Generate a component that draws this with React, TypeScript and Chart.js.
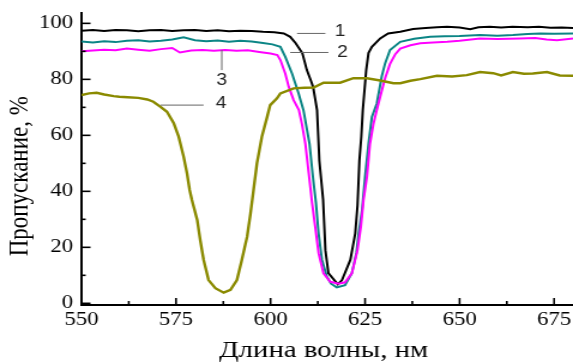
import React, { useEffect, useRef } from 'react';
import { Chart, registerables } from 'chart.js';

Chart.register(...registerables);

// ---- axes ----
const xTicks = [550, 575, 600, 625, 650, 675];
const xMinorTicks = [562.5, 587.5, 612.5, 637.5, 662.5];
const yTicks = [0, 20, 40, 60, 80, 100];
const yMinorTicks = [10, 30, 50, 70, 90];
const xTitle = 'Длина волны, нм';
const yTitle = 'Пропускание, %';

// ---- curve 1 (black) ----
const wl1 = [550, 553, 556, 559, 562, 565, 568, 571, 574, 577, 580, 583, 586, 589, 592, 595, 598, 601, 603.5, 605.2, 606.6, 608.4, 609.6, 610.9, 611.3, 612.3, 612.9, 613.9, 614.5, 615.3, 617.8, 618.9, 621.1, 622.4, 623.0, 623.5, 624.0, 624.4, 625.3, 625.9, 626.8, 629.0, 631.1, 634.3, 637.7, 641, 644, 646.7, 650, 652.8, 655, 658, 661, 664, 668, 671, 674, 677, 680];
const t1 = [97.4, 97.6, 97.3, 97.6, 97.5, 97.2, 97.5, 97.6, 97.3, 97.5, 97.6, 97.3, 97.5, 97.2, 97.4, 97.3, 97.0, 96.8, 96.4, 95.2, 93.0, 89.4, 83.3, 78.7, 77.0, 69.0, 51.0, 37.0, 19.0, 10.8, 6.8, 8.3, 15.5, 25.0, 35.0, 51.0, 59.5, 69.0, 83.3, 89.4, 91.6, 94.6, 96.4, 97.0, 98.0, 98.3, 98.6, 98.8, 98.5, 97.9, 98.6, 98.8, 98.5, 98.8, 98.6, 98.8, 98.4, 98.5, 98.3];

// ---- curve 2 (teal) ----
const wl2 = [550, 553, 556, 559, 562, 565, 568, 571, 574, 577, 580, 583, 586, 589, 592, 595, 598, 600.5, 602.6, 603.9, 605.7, 607.4, 608.7, 610.3, 611.2, 612.0, 612.7, 613.6, 614.9, 616, 617.5, 619.7, 621.5, 622.7, 623.3, 624.2, 625.0, 625.9, 626.8, 628.1, 629.4, 630.3, 631.6, 634.3, 638, 642.2, 646, 650, 655.4, 660, 664.1, 668, 671.3, 675, 680];
const t2 = [93.5, 93.2, 93.6, 93.3, 93.8, 94.0, 93.5, 93.8, 94.2, 95.0, 94.0, 93.6, 93.9, 93.4, 93.8, 93.5, 93.0, 92.5, 91.6, 88.0, 82.0, 75.0, 69.0, 57.0, 45.2, 36.0, 25.0, 15.5, 9.5, 7.0, 5.7, 6.5, 10.8, 18.0, 25.0, 33.3, 45.2, 57.0, 66.6, 71.4, 81.0, 85.7, 90.5, 93.4, 94.5, 95.2, 95.4, 95.5, 95.8, 95.6, 95.8, 96.2, 96.4, 96.3, 96.4];

// ---- curve 3 (magenta) ----
const wl3 = [550, 553, 556, 559, 562, 565, 568, 571, 574, 576, 579, 582, 585, 588, 591, 594, 597, 600, 601.8, 602.6, 603.9, 604.8, 606.1, 607.5, 608.3, 609.2, 610.1, 611.0, 611.8, 612.7, 614.0, 615.8, 618.0, 619.7, 621.5, 623.0, 623.9, 624.6, 625.5, 626.3, 627.2, 628.0, 629.0, 630.3, 631.6, 633, 634.3, 637, 639.6, 643, 646.7, 650, 655.4, 660, 666, 670, 673, 675.8, 680];
const t3 = [90.0, 90.3, 90.6, 90.4, 91.0, 90.6, 90.2, 90.8, 91.2, 89.6, 90.3, 90.5, 90.2, 90.5, 90.2, 90.4, 89.8, 89.2, 88.7, 86.9, 82.0, 77.4, 72.6, 69.0, 64.0, 57.0, 46.4, 35.7, 27.4, 17.9, 10.7, 7.7, 7.0, 7.5, 10.7, 19.0, 27.4, 37.0, 45.2, 57.0, 64.0, 68.5, 73.8, 80.4, 85.5, 89.0, 91.0, 92.2, 92.9, 93.2, 93.4, 93.8, 94.6, 94.4, 94.6, 94.8, 94.2, 94.0, 94.6];

// ---- curve 4 (olive) ----
const wl4 = [550, 552, 554, 556, 558.5, 560, 562.2, 565, 567.4, 569, 570.9, 572.6, 574.4, 575.7, 577.0, 577.9, 578.6, 579.2, 580.6, 581.4, 582.3, 583.6, 585.4, 587.6, 589.4, 591.1, 592.4, 593.8, 594.7, 595.5, 596.4, 597.7, 599.1, 599.9, 601.7, 602.6, 606.1, 609, 611.4, 614.0, 618.4, 621.9, 625.5, 629.0, 632.5, 634.3, 637, 639.6, 644.0, 648, 651.9, 655.4, 658.9, 661, 664.1, 667, 669.4, 673.1, 676.5, 680];
const t4 = [74.4, 75.0, 75.2, 74.6, 74.0, 73.8, 73.6, 73.4, 72.8, 72.0, 70.2, 68.4, 64.3, 59.5, 52.4, 46.4, 40.5, 36.9, 29.8, 22.6, 15.5, 8.3, 5.4, 3.8, 4.8, 8.3, 15.5, 23.8, 32.1, 40.5, 50.0, 59.5, 66.6, 70.8, 73.2, 75.0, 76.8, 77.0, 77.1, 78.8, 78.8, 80.4, 80.4, 79.6, 78.6, 78.6, 79.5, 80.1, 81.3, 81.0, 81.5, 82.6, 82.2, 81.4, 82.6, 82.0, 82.1, 82.6, 81.4, 81.3];

// ---- curve labels (data coordinates) ----
const calloutText = ['1', '2', '3', '4'];
const calloutX = [618.4, 619.0, 587.1, 586.9];
const calloutY = [97.0, 89.4, 79.4, 71.2];
// leader lines: [x1, y1, x2, y2]
const leaders = [
  [607.0, 96.4, 614.5, 96.4],
  [605.2, 89.6, 615.3, 89.6],
  [587.1, 90.5, 587.1, 83.3],
  [570.9, 70.8, 582.3, 70.8],
];

const W = 478;
const H = 363;
const STRETCH = 573 / W;

const toPts = (xs: number[], ys: number[]) => xs.map((x, i) => ({ x, y: ys[i] }));

const serif = '"Liberation Serif", "Times New Roman", serif';

const overlay = {
  id: 'overlay',
  afterDatasetsDraw(chart: any) {
    const { ctx } = chart;
    const xs = chart.scales.x;
    const ys = chart.scales.y;
    const left = chart.chartArea.left;
    const bottom = chart.chartArea.bottom;
    ctx.save();
    ctx.strokeStyle = '#000';
    ctx.lineWidth = 1.6;
    const drawY = (v: number, len: number) => {
      const p = ys.getPixelForValue(v);
      ctx.beginPath();
      ctx.moveTo(left, p);
      ctx.lineTo(left + len, p);
      ctx.stroke();
    };
    const drawX = (v: number, len: number) => {
      const p = xs.getPixelForValue(v);
      ctx.beginPath();
      ctx.moveTo(p, bottom);
      ctx.lineTo(p, bottom - len);
      ctx.stroke();
    };
    yTicks.forEach((v) => drawY(v, 7.5));
    yMinorTicks.forEach((v) => drawY(v, 3.5));
    xTicks.forEach((v) => drawX(v, 7));
    xMinorTicks.forEach((v) => drawX(v, 4));

    ctx.strokeStyle = '#666';
    ctx.lineWidth = 1;
    leaders.forEach(([x1, y1, x2, y2]) => {
      ctx.beginPath();
      ctx.moveTo(xs.getPixelForValue(x1), ys.getPixelForValue(y1));
      ctx.lineTo(xs.getPixelForValue(x2), ys.getPixelForValue(y2));
      ctx.stroke();
    });
    ctx.fillStyle = '#222';
    ctx.font = '16px "Liberation Sans", Arial, sans-serif';
    ctx.textAlign = 'center';
    ctx.textBaseline = 'middle';
    calloutText.forEach((t, i) => {
      ctx.fillText(t, xs.getPixelForValue(calloutX[i]), ys.getPixelForValue(calloutY[i]));
    });
    ctx.restore();
  },
};

export default function App() {
  const ref = useRef<HTMLCanvasElement>(null);
  useEffect(() => {
    const canvas = ref.current!;
    const line = (data: any, color: string, width: number) => ({
      data,
      borderColor: color,
      borderWidth: width,
      pointRadius: 0,
      fill: false,
      tension: 0,
    });
    const chart = new Chart(canvas, {
      type: 'line',
      data: {
        datasets: [
          line(toPts(wl4, t4), '#8a8a00', 2.4),
          line(toPts(wl3, t3), '#ff00ff', 2),
          line(toPts(wl2, t2), '#0b8585', 2),
          line(toPts(wl1, t1), '#000000', 2),
        ],
      },
      options: {
        animation: false,
        responsive: false,
        events: [],
        layout: { padding: { top: 13, left: 0, right: 0, bottom: 0 } },
        plugins: { legend: { display: false }, tooltip: { enabled: false } },
        scales: {
          x: {
            type: 'linear',
            min: 550,
            max: 680,
            afterBuildTicks: (s: any) => {
              s.ticks = xTicks.map((v) => ({ value: v }));
            },
            afterFit: (s: any) => {
              s.height = 58;
              s.paddingLeft = 0;
              s.paddingRight = 0;
              s.paddingTop = 0;
              s.paddingBottom = 0;
            },
            grid: { display: false, drawTicks: false },
            border: { display: true, color: '#000', width: 2 },
            ticks: {
              color: '#000',
              padding: 4,
              maxRotation: 0,
              autoSkip: false,
              font: { family: serif, size: 19 },
            },
            title: {
              display: true,
              text: xTitle + ' ',
              color: '#000',
              padding: 0,
              font: { family: serif, size: 24, lineHeight: 1 },
            },
          },
          y: {
            type: 'linear',
            min: -0.6,
            max: 103.7,
            afterBuildTicks: (s: any) => {
              s.ticks = yTicks.map((v) => ({ value: v }));
            },
            afterFit: (s: any) => {
              s.width = 68;
              s.paddingLeft = 0;
              s.paddingRight = 0;
              s.paddingTop = 0;
              s.paddingBottom = 0;
            },
            grid: { display: false, drawTicks: false },
            border: { display: true, color: '#000', width: 2 },
            ticks: {
              color: '#000',
              padding: 7,
              autoSkip: false,
              font: { family: serif, size: 19 },
            },
            title: {
              display: true,
              text: yTitle + '      ',
              color: '#000',
              padding: { top: 5, bottom: 0 },
              font: { family: serif, size: 23, lineHeight: 1 },
            },
          },
        },
      },
      plugins: [overlay],
    } as any);
    return () => chart.destroy();
  }, []);
  return (
    <div style={{ position: 'absolute', left: 0, top: 0, width: 573, height: H, overflow: 'hidden', background: '#fff' }}>
      <canvas
        ref={ref}
        width={W}
        height={H}
        style={{ display: 'block', transform: `scaleX(${STRETCH})`, transformOrigin: '0 0' }}
      />
    </div>
  );
}
